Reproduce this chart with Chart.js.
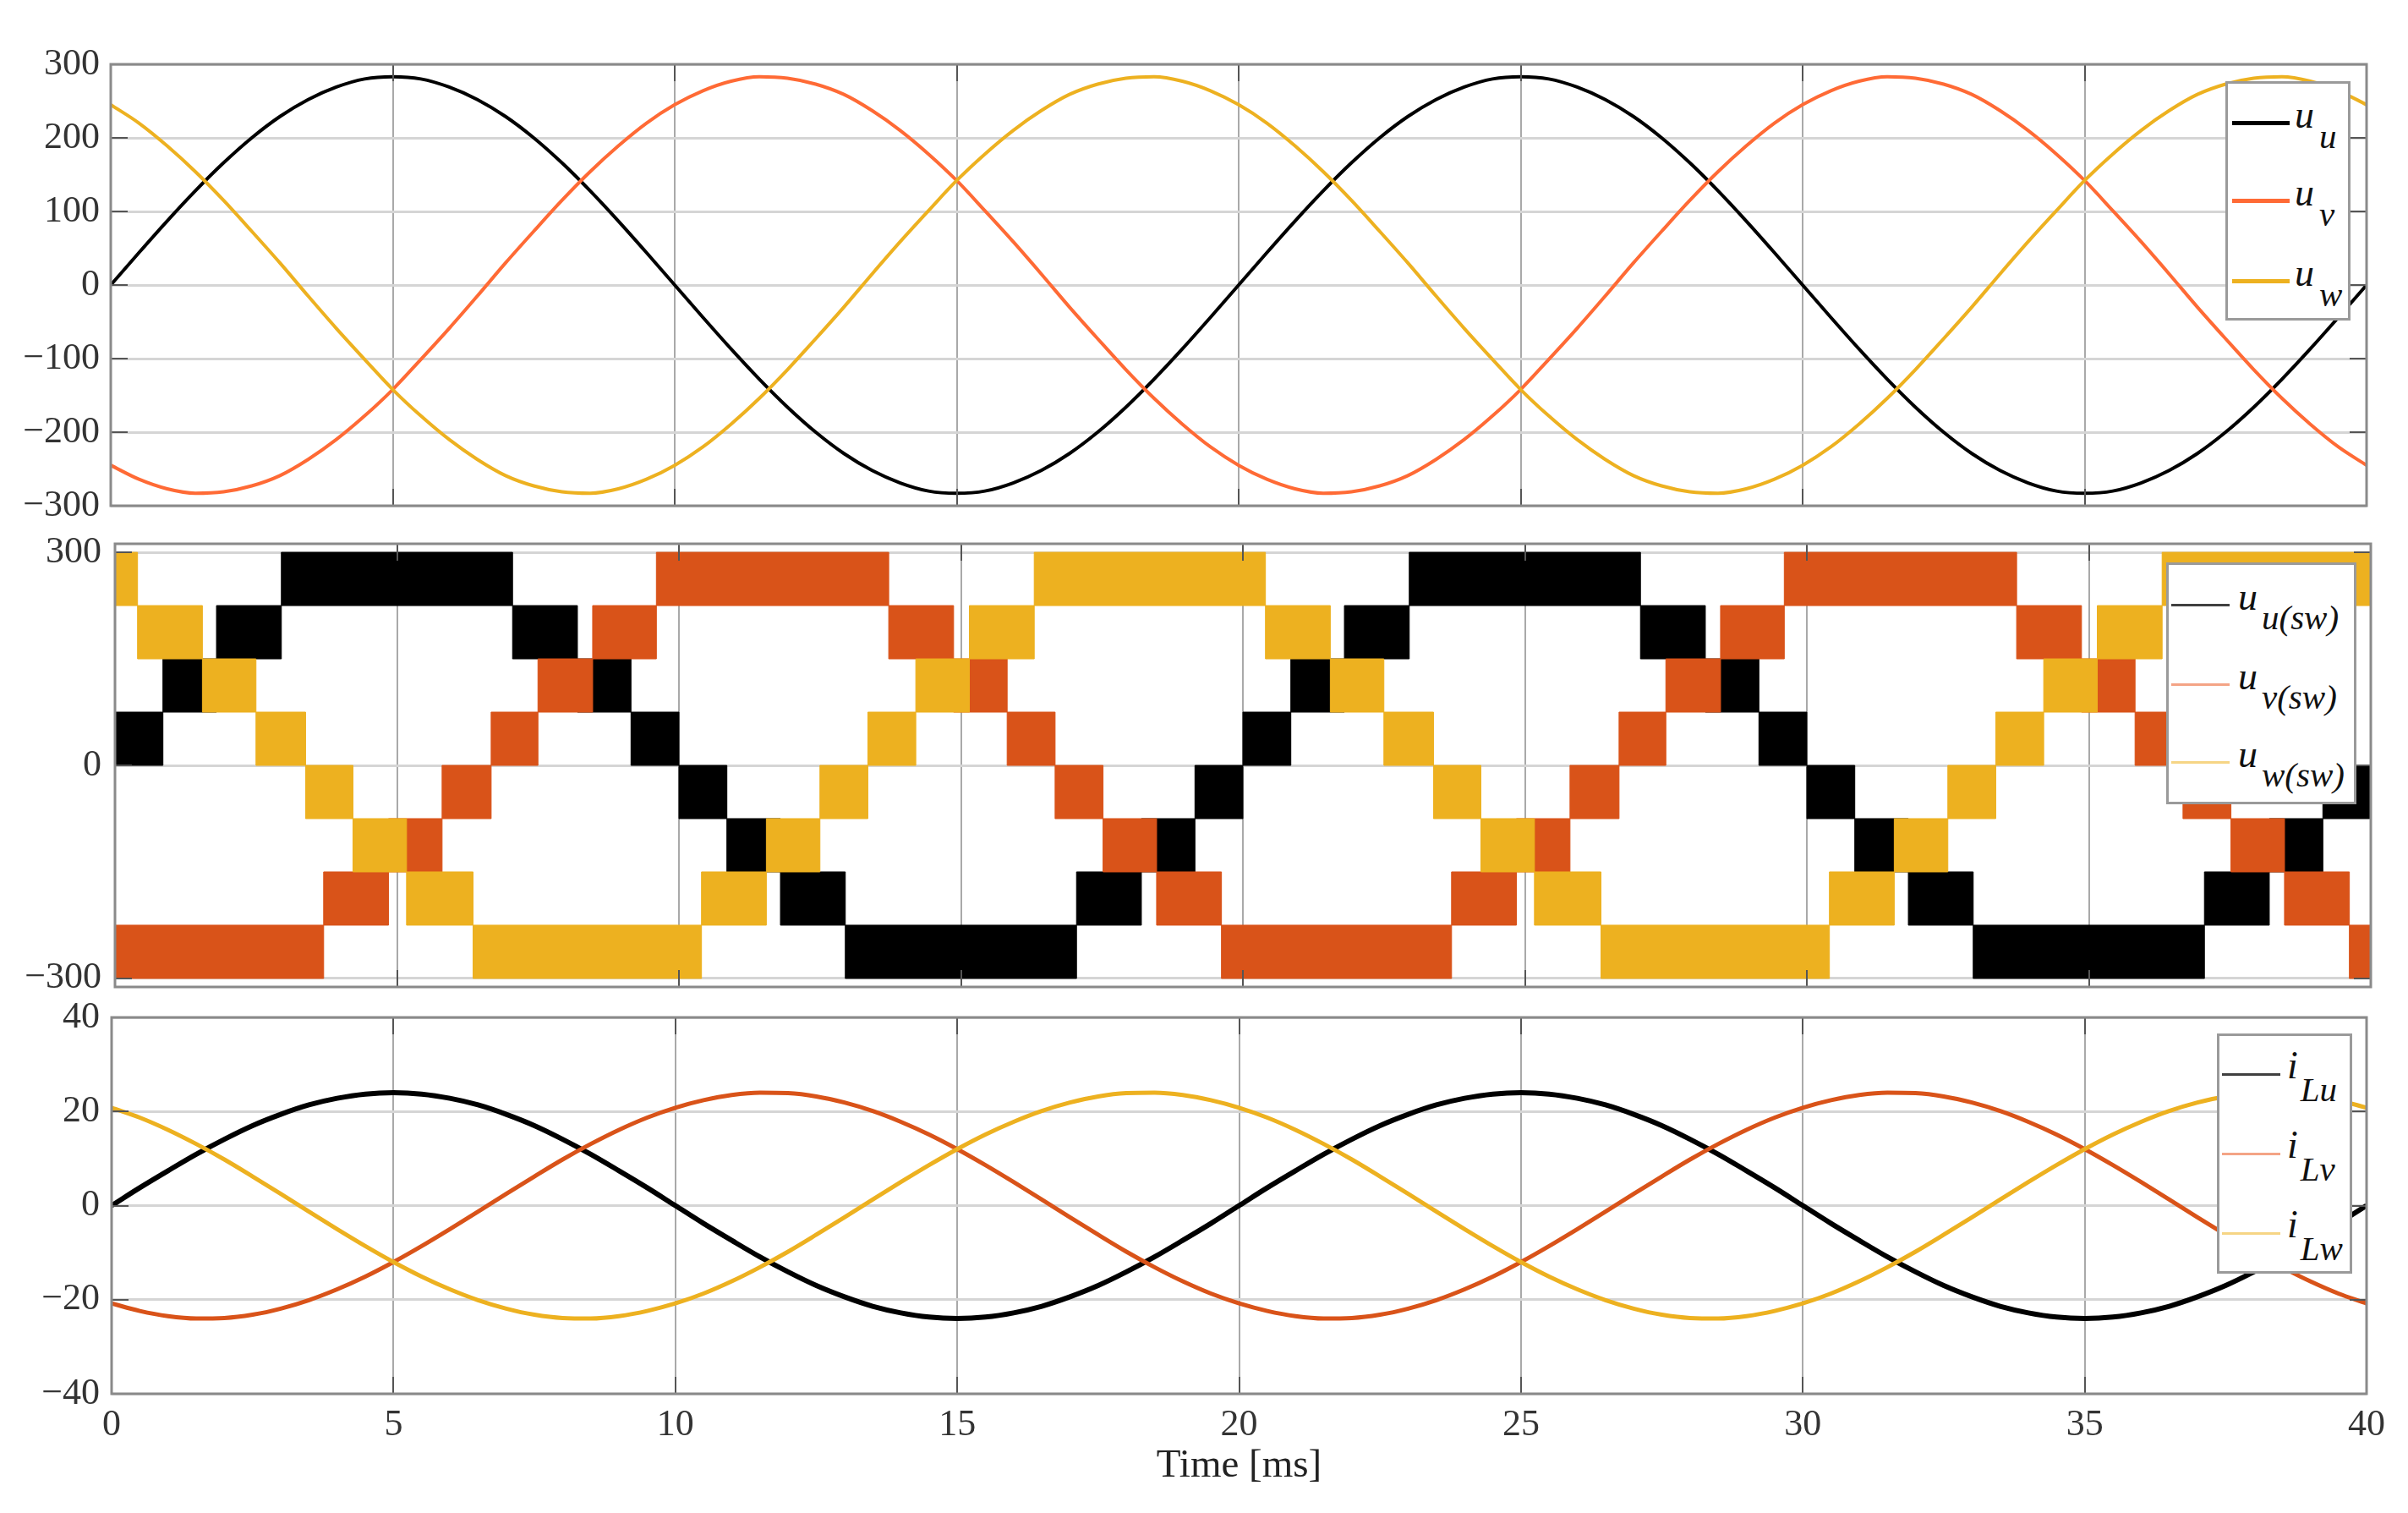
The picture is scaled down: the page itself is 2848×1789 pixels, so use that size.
<!DOCTYPE html>
<html><head><meta charset="utf-8">
<script src="https://cdn.jsdelivr.net/npm/chart.js@4/dist/chart.umd.min.js"></script>
<style>
html,body{margin:0;padding:0;background:#fff;}
#page{position:relative;width:2848px;height:1789px;overflow:hidden;background:#fff;}
canvas{position:absolute;left:0;top:0;}
.leg{position:absolute;background:#fff;border:3px solid #9a9a9a;box-sizing:border-box;}
.sw{position:absolute;}
.lbl{position:absolute;font-family:'Liberation Serif',serif;font-style:italic;font-size:46px;line-height:40px;color:#111;white-space:nowrap;}
.lbl sub{font-size:41px;line-height:0;}
</style></head>
<body><div id="page">
<canvas id="cTop" width="2848" height="1789"></canvas>
<canvas id="cMid" width="2848" height="1789"></canvas>
<canvas id="cBot" width="2848" height="1789"></canvas>

<div class="leg" style="left:2632px;top:96px;width:148px;height:283px"></div>
<div class="sw" style="left:2640px;top:143px;width:68px;height:5px;background:#000"></div>
<div class="sw" style="left:2640px;top:235px;width:68px;height:5px;background:#FF6A35"></div>
<div class="sw" style="left:2640px;top:330px;width:68px;height:5px;background:#EDB120"></div>
<div class="lbl" style="left:2714px;top:116px">u<sub style="vertical-align:-24px;margin-left:6px">u</sub></div>
<div class="lbl" style="left:2714px;top:208px">u<sub style="vertical-align:-24px;margin-left:6px">v</sub></div>
<div class="lbl" style="left:2714px;top:303px">u<sub style="vertical-align:-24px;margin-left:6px">w</sub></div>

<div class="leg" style="left:2562px;top:665px;width:225px;height:286px"></div>
<div class="sw" style="left:2568px;top:714px;width:69px;height:3px;background:#404040"></div>
<div class="sw" style="left:2568px;top:808px;width:69px;height:3px;background:#F4A486"></div>
<div class="sw" style="left:2568px;top:900px;width:69px;height:3px;background:#F6D585"></div>
<div class="lbl" style="left:2647px;top:686px">u<sub style="vertical-align:-23px;margin-left:5px">u(sw)</sub></div>
<div class="lbl" style="left:2647px;top:780px">u<sub style="vertical-align:-23px;margin-left:5px">v(sw)</sub></div>
<div class="lbl" style="left:2647px;top:872px">u<sub style="vertical-align:-23px;margin-left:5px">w(sw)</sub></div>

<div class="leg" style="left:2622px;top:1222px;width:160px;height:284px"></div>
<div class="sw" style="left:2628px;top:1269px;width:69px;height:3px;background:#404040"></div>
<div class="sw" style="left:2628px;top:1363px;width:69px;height:3px;background:#F4A486"></div>
<div class="sw" style="left:2628px;top:1457px;width:69px;height:3px;background:#F6D585"></div>
<div class="lbl" style="left:2705px;top:1240px">i<sub style="vertical-align:-27px;margin-left:3px">Lu</sub></div>
<div class="lbl" style="left:2705px;top:1334px">i<sub style="vertical-align:-27px;margin-left:3px">Lv</sub></div>
<div class="lbl" style="left:2705px;top:1428px">i<sub style="vertical-align:-27px;margin-left:3px">Lw</sub></div>
</div>
<script>
// ---------- data ----------
const timeMs = [0,0.5,1,1.5,2,2.5,3,3.5,4,4.5,5,5.5,6,6.5,7,7.5,8,8.5,9,9.5,
  10,10.5,11,11.5,12,12.5,13,13.5,14,14.5,15,15.5,16,16.5,17,17.5,18,18.5,19,19.5,
  20,20.5,21,21.5,22,22.5,23,23.5,24,24.5,25,25.5,26,26.5,27,27.5,28,28.5,29,29.5,
  30,30.5,31,31.5,32,32.5,33,33.5,34,34.5,35,35.5,36,36.5,37,37.5,38,38.5,39,39.5,40];
const timeTicks = [0,5,10,15,20,25,30,35,40];
const topTicks = [-300,-200,-100,0,100,200,300];
const midTicks = [-300,0,300];
const botTicks = [-40,-20,0,20,40];

// phase voltages [V]
const uU = [0,44,87,128,166,200,229,252,269,280,283,280,269,252,229,200,166,128,87,44,
  0,-44,-87,-128,-166,-200,-229,-252,-269,-280,-283,-280,-269,-252,-229,-200,-166,-128,-87,-44,
  0,44,87,128,166,200,229,252,269,280,283,280,269,252,229,200,166,128,87,44,
  0,-44,-87,-128,-166,-200,-229,-252,-269,-280,-283,-280,-269,-252,-229,-200,-166,-128,-87,-44,0];
const uV = [-245,-264,-277,-283,-281,-273,-259,-237,-210,-178,-142,-101,-59,-15,30,73,115,154,189,220,
  245,264,277,283,281,273,259,237,210,178,142,101,59,15,-30,-73,-115,-154,-189,-220,
  -245,-264,-277,-283,-281,-273,-259,-237,-210,-178,-142,-101,-59,-15,30,73,115,154,189,220,
  245,264,277,283,281,273,259,237,210,178,142,101,59,15,-30,-73,-115,-154,-189,-220,-245];
const uW = [245,220,189,154,115,73,30,-15,-59,-101,-142,-178,-210,-237,-259,-273,-281,-283,-277,-264,
  -245,-220,-189,-154,-115,-73,-30,15,59,101,142,178,210,237,259,273,281,283,277,264,
  245,220,189,154,115,73,30,-15,-59,-101,-142,-178,-210,-237,-259,-273,-281,-283,-277,-264,
  -245,-220,-189,-154,-115,-73,-30,15,59,101,142,178,210,237,259,273,281,283,277,264,245];

// switched voltages: band start times [ms], band lower / upper level [V]
const uSwT = [0,0.85,1.8,2.95,7.05,8.2,9.15,10,10.85,11.8,12.95,17.05,18.2,19.15,20,20.85,21.8,22.95,27.05,28.2,29.15,30,30.85,31.8,32.95,37.05,38.2,39.15,40];
const uSwLow = [0,75,150,225,150,75,0,-75,-150,-225,-300,-225,-150,-75,0,75,150,225,150,75,0,-75,-150,-225,-300,-225,-150,-75,-75];
const uSwHigh = [75,150,225,300,225,150,75,0,-75,-150,-225,-150,-75,0,75,150,225,300,225,150,75,0,-75,-150,-225,-150,-75,0,0];
const vSwT = [0,3.7,4.85,5.8,6.67,7.5,8.47,9.6,13.72,14.87,15.82,16.67,17.52,18.47,19.62,23.7,24.85,25.8,26.67,27.5,28.47,29.6,33.72,34.87,35.82,36.67,37.52,38.47,39.62,40];
const vSwLow = [-300,-225,-150,-75,0,75,150,225,150,75,0,-75,-150,-225,-300,-225,-150,-75,0,75,150,225,150,75,0,-75,-150,-225,-300,-300];
const vSwHigh = [-225,-150,-75,0,75,150,225,300,225,150,75,0,-75,-150,-225,-150,-75,0,75,150,225,300,225,150,75,0,-75,-150,-225,-225];
const wSwT = [0,0.4,1.55,2.5,3.38,4.22,5.17,6.35,10.4,11.55,12.5,13.35,14.2,15.15,16.3,20.4,21.55,22.5,23.38,24.22,25.17,26.35,30.4,31.55,32.5,33.35,34.2,35.15,36.3,40];
const wSwLow = [225,150,75,0,-75,-150,-225,-300,-225,-150,-75,0,75,150,225,150,75,0,-75,-150,-225,-300,-225,-150,-75,0,75,150,225,225];
const wSwHigh = [300,225,150,75,0,-75,-150,-225,-150,-75,0,75,150,225,300,225,150,75,0,-75,-150,-225,-150,-75,0,75,150,225,300,300];

// inductor currents [A]
const iLu = [0,3.8,7.4,10.9,14.1,17.0,19.4,21.4,22.8,23.7,24,23.7,22.8,21.4,19.4,17.0,14.1,10.9,7.4,3.8,
  0,-3.8,-7.4,-10.9,-14.1,-17.0,-19.4,-21.4,-22.8,-23.7,-24,-23.7,-22.8,-21.4,-19.4,-17.0,-14.1,-10.9,-7.4,-3.8,
  0,3.8,7.4,10.9,14.1,17.0,19.4,21.4,22.8,23.7,24,23.7,22.8,21.4,19.4,17.0,14.1,10.9,7.4,3.8,
  0,-3.8,-7.4,-10.9,-14.1,-17.0,-19.4,-21.4,-22.8,-23.7,-24,-23.7,-22.8,-21.4,-19.4,-17.0,-14.1,-10.9,-7.4,-3.8,0];
const iLv = [-20.8,-22.4,-23.5,-24.0,-23.9,-23.2,-21.9,-20.1,-17.8,-15.1,-12.0,-8.6,-5.0,-1.3,2.5,6.2,9.8,13.1,16.1,18.7,
  20.8,22.4,23.5,24.0,23.9,23.2,21.9,20.1,17.8,15.1,12.0,8.6,5.0,1.3,-2.5,-6.2,-9.8,-13.1,-16.1,-18.7,
  -20.8,-22.4,-23.5,-24.0,-23.9,-23.2,-21.9,-20.1,-17.8,-15.1,-12.0,-8.6,-5.0,-1.3,2.5,6.2,9.8,13.1,16.1,18.7,
  20.8,22.4,23.5,24.0,23.9,23.2,21.9,20.1,17.8,15.1,12.0,8.6,5.0,1.3,-2.5,-6.2,-9.8,-13.1,-16.1,-18.7,-20.8];
const iLw = [20.8,18.7,16.1,13.1,9.8,6.2,2.5,-1.3,-5.0,-8.6,-12.0,-15.1,-17.8,-20.1,-21.9,-23.2,-23.9,-24.0,-23.5,-22.4,
  -20.8,-18.7,-16.1,-13.1,-9.8,-6.2,-2.5,1.3,5.0,8.6,12.0,15.1,17.8,20.1,21.9,23.2,23.9,24.0,23.5,22.4,
  20.8,18.7,16.1,13.1,9.8,6.2,2.5,-1.3,-5.0,-8.6,-12.0,-15.1,-17.8,-20.1,-21.9,-23.2,-23.9,-24.0,-23.5,-22.4,
  -20.8,-18.7,-16.1,-13.1,-9.8,-6.2,-2.5,1.3,5.0,8.6,12.0,15.1,17.8,20.1,21.9,23.2,23.9,24.0,23.5,22.4,20.8];

// ---------- styling ----------
const C_BLACK = '#000000', C_ORANGE_TOP = '#FF6A35', C_ORANGE = '#D95319', C_YELLOW = '#EDB120';
const FONT = 'Liberation Serif';
const fmt = v => (v < 0 ? '\u2212' + (-v) : String(v));

const boxPlugin = {
  id: 'matBox',
  afterDraw(chart) {
    const {ctx, chartArea: a, scales: {x, y}} = chart;
    const tl = 20;
    ctx.save();
    ctx.strokeStyle = '#555';
    ctx.lineWidth = 2;
    ctx.beginPath();
    x.ticks.forEach(t => {
      const px = Math.round(x.getPixelForValue(t.value));
      ctx.moveTo(px, a.bottom); ctx.lineTo(px, a.bottom - tl);
      ctx.moveTo(px, a.top); ctx.lineTo(px, a.top + tl);
    });
    y.ticks.forEach(t => {
      const py = Math.round(y.getPixelForValue(t.value));
      ctx.moveTo(a.left, py); ctx.lineTo(a.left + tl, py);
      ctx.moveTo(a.right, py); ctx.lineTo(a.right - tl, py);
    });
    ctx.stroke();
    ctx.strokeStyle = '#8a8a8a';
    ctx.lineWidth = 3;
    ctx.strokeRect(a.left, a.top, a.right - a.left, a.bottom - a.top);
    ctx.restore();
  }
};

function lineDs(vals, color, width, order) {
  return { data: timeMs.map((t, i) => ({x: t, y: vals[i]})), borderColor: color, borderWidth: width,
           pointRadius: 0, cubicInterpolationMode: 'monotone', fill: false, order };
}
function bandDs(T, lo, hi, color, order) {
  return [
    { data: T.map((t, i) => ({x: t, y: lo[i]})), stepped: true, borderColor: color, borderWidth: 1,
      pointRadius: 0, fill: false, order },
    { data: T.map((t, i) => ({x: t, y: hi[i]})), stepped: true, borderColor: color, borderWidth: 1,
      pointRadius: 0, fill: '-1', backgroundColor: color, order }
  ];
}

function makeChart(id, datasets, o) {
  return new Chart(document.getElementById(id), {
    type: 'line',
    data: { datasets },
    options: {
      responsive: false, animation: false, devicePixelRatio: 1,
      layout: { padding: { left: 0, right: o.padR, top: o.padT, bottom: o.padB } },
      plugins: { legend: { display: false }, tooltip: { enabled: false } },
      scales: {
        x: {
          type: 'linear', min: 0, max: 40,
          afterBuildTicks: s => { s.ticks = timeTicks.map(v => ({value: v})); },
          afterFit: s => { s.height = o.xH; },
          grid: { color: '#a9a9a9', lineWidth: 2, drawTicks: false },
          border: { display: false },
          ticks: { display: o.showX, font: { family: FONT, size: 44 }, color: '#333', padding: 11, maxRotation: 0 },
          title: { display: o.showX, text: 'Time [ms]', font: { family: FONT, size: 47 }, color: '#222',
                   padding: { top: 0, bottom: 27 } }
        },
        y: {
          type: 'linear', min: o.yMin, max: o.yMax,
          afterBuildTicks: s => { s.ticks = o.yTicks.map(v => ({value: v})); },
          afterFit: s => { s.width = o.yW; },
          grid: { color: '#d5d5d5', lineWidth: 3, drawTicks: false },
          border: { display: false },
          ticks: { font: { family: FONT, size: 44 }, color: '#333', padding: o.yPad, callback: v => fmt(v) }
        }
      }
    },
    plugins: [boxPlugin]
  });
}

makeChart('cTop', [
  lineDs(uU, C_BLACK, 4, 3),
  lineDs(uV, C_ORANGE_TOP, 4, 2),
  lineDs(uW, C_YELLOW, 4, 1)
], { padT: 76, padB: 1789 - 598, padR: 2848 - 2799, yW: 131, yPad: 13, xH: 0, showX: false,
     yMin: -300, yMax: 300, yTicks: topTicks });

makeChart('cMid', [
  ...bandDs(uSwT, uSwLow, uSwHigh, C_BLACK, 3),
  ...bandDs(vSwT, vSwLow, vSwHigh, C_ORANGE, 2),
  ...bandDs(wSwT, wSwLow, wSwHigh, C_YELLOW, 1)
], { padT: 643, padB: 1789 - 1167, padR: 2848 - 2804, yW: 136, yPad: 16, xH: 0, showX: false,
     yMin: -312, yMax: 312, yTicks: midTicks });

makeChart('cBot', [
  lineDs(iLu, C_BLACK, 6, 3),
  lineDs(iLv, C_ORANGE, 5, 2),
  lineDs(iLw, C_YELLOW, 5, 1)
], { padT: 1203, padB: 0, padR: 2848 - 2799, yW: 132, yPad: 14, xH: 141, showX: true,
     yMin: -40, yMax: 40, yTicks: botTicks });
</script>
</body></html>
